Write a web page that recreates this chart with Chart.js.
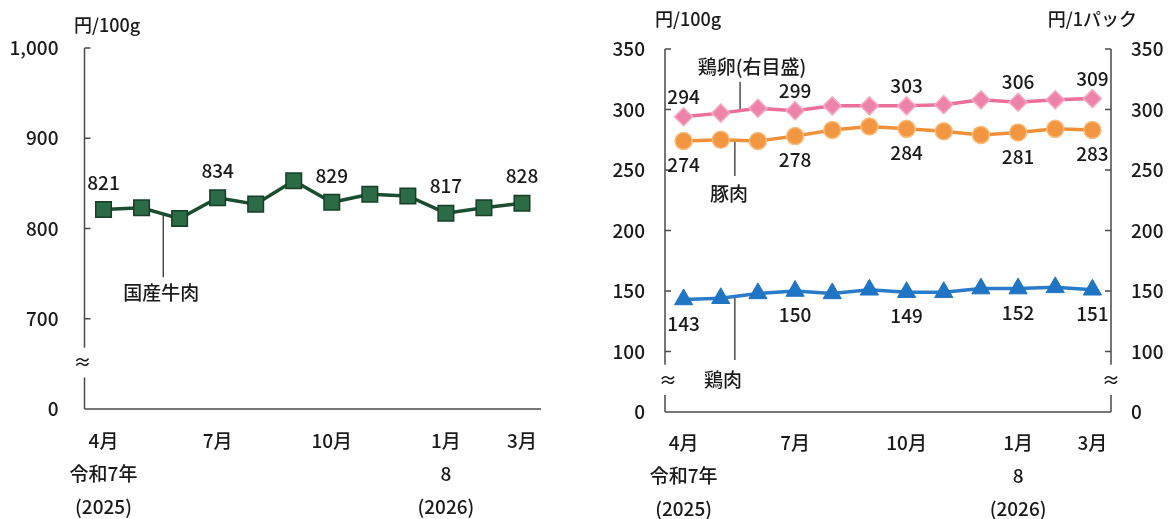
<!DOCTYPE html>
<html lang="ja">
<head>
<meta charset="utf-8">
<script src="https://cdn.jsdelivr.net/npm/chart.js@4/dist/chart.umd.min.js"></script>
<style>
  html, body { margin: 0; padding: 0; background: #fff; width: 1168px; height: 519px; overflow: hidden; }
  canvas { position: absolute; top: 0; }
  #beefChart { left: 0; }
  #meatChart { left: 560px; }
</style>
</head>
<body>
<canvas id="beefChart" width="560" height="519"></canvas>
<canvas id="meatChart" width="608" height="519"></canvas>
<script>
// ---- data -------------------------------------------------------------
const months = ['4月', '5月', '6月', '7月', '8月', '9月', '10月', '11月', '12月', '1月', '2月', '3月'];
const tickMonths = ['4月', '7月', '10月', '1月', '3月'];
const yearRows = { '4月': ['令和7年', '(2025)'], '1月': ['8', '(2026)'] };
const valueLabelMonths = ['4月', '7月', '10月', '1月', '3月'];

const beefPrices    = [821, 823, 811, 834, 827, 853, 829, 838, 836, 817, 823, 828];
const eggPrices     = [294, 297, 301, 299, 303, 303, 303, 304, 308, 306, 308, 309];
const porkPrices    = [274, 275, 274, 278, 283, 286, 284, 282, 279, 281, 284, 283];
const chickenPrices = [143, 144, 148, 150, 148, 151, 149, 149, 152, 152, 153, 151];

const beefTicks = [700, 800, 900, 1000];
const meatTicks = [100, 150, 200, 250, 300, 350];

// ---- styling ----------------------------------------------------------
const FONT = "'Noto Sans CJK JP', 'Noto Sans', sans-serif";
const WEIGHT = 500;
const TEXT = '#1a1a1a';
const AXIS = '#4a4a4a';

Chart.defaults.font.family = FONT;
Chart.defaults.font.weight = WEIGHT;
Chart.defaults.color = TEXT;
Chart.defaults.animation = false;

function monthTick(value, index) {
  const m = months[index];
  if (!tickMonths.includes(m)) return '';
  return yearRows[m] ? [m, ...yearRows[m]] : m;
}

function valueAxis(id, side, min, max, ticks, pad, width) {
  return {
    type: 'linear', position: side, min, max,
    grid: { display: false, drawTicks: false },
    border: { display: false },
    afterBuildTicks(scale) {
      scale.ticks = [min, ...ticks].map(v => ({ value: v }));
    },
    afterFit(scale) { scale.width = width; },
    ticks: {
      padding: pad,
      font: { size: 19, weight: WEIGHT },
      color: TEXT,
      callback: v => (v === min ? '0' : v.toLocaleString('en-US'))
    }
  };
}

function monthAxis(height, pad) {
  return {
    type: 'category', offset: true,
    grid: { display: false, drawTicks: false },
    border: { display: false },
    afterFit(scale) { scale.height = height; },
    ticks: {
      autoSkip: false, maxRotation: 0, padding: pad,
      font: { size: 19, weight: WEIGHT, lineHeight: 1.75 },
      color: TEXT,
      callback: monthTick
    }
  };
}

// axis frame with broken value axes, inward tick marks and the "≈" mark
const framePlugin = {
  id: 'frame',
  beforeDatasetsDraw(chart, args, o) {
    const ctx = chart.ctx, a = chart.chartArea;
    ctx.save();
    ctx.strokeStyle = AXIS;
    ctx.lineWidth = 1.5;
    ctx.beginPath();
    ctx.moveTo(a.left, a.bottom);
    ctx.lineTo(a.right, a.bottom);
    ctx.stroke();
    for (const ax of o.axes) {
      const s = chart.scales[ax.id];
      const px = ax.side === 'left' ? a.left : a.right;
      const dir = ax.side === 'left' ? 1 : -1;
      const gTop = s.getPixelForValue(o.breakHigh);
      const gBot = s.getPixelForValue(o.breakLow);
      ctx.beginPath();
      ctx.moveTo(px, a.top);
      ctx.lineTo(px, gTop);
      ctx.moveTo(px, gBot);
      ctx.lineTo(px, a.bottom);
      for (const v of o.ticks) {
        const py = s.getPixelForValue(v);
        ctx.moveTo(px, py);
        ctx.lineTo(px + dir * 6, py);
      }
      ctx.stroke();
      ctx.fillStyle = TEXT;
      ctx.font = `${WEIGHT} 18px ${FONT}`;
      ctx.textAlign = 'center';
      ctx.textBaseline = 'middle';
      ctx.fillText('≈', px + (ax.markDx || 0), (gTop + gBot) / 2);
    }
    // series names with leader lines
    for (const n of o.notes || []) {
      const s = chart.scales[n.axis];
      const x = chart.scales.x;
      const ds = chart.data.datasets[n.dataset].data;
      const i0 = Math.floor(n.at), f = n.at - i0;
      const lineVal = ds[i0] + (ds[i0 + 1] - ds[i0]) * f;
      const lx = x.getPixelForValue(n.at);
      ctx.strokeStyle = '#333';
      ctx.lineWidth = 1.3;
      ctx.beginPath();
      ctx.moveTo(lx, s.getPixelForValue(lineVal));
      ctx.lineTo(lx, s.getPixelForValue(n.leaderTo));
      ctx.stroke();
      ctx.fillStyle = TEXT;
      ctx.font = `${WEIGHT} 19px ${FONT}`;
      ctx.textAlign = 'center';
      ctx.textBaseline = 'middle';
      ctx.fillText(n.text, x.getPixelForValue(n.textAt), s.getPixelForValue(n.textVal));
    }
    ctx.restore();
  },
  afterDatasetsDraw(chart) {
    const ctx = chart.ctx;
    ctx.save();
    ctx.fillStyle = TEXT;
    ctx.font = `${WEIGHT} 19px ${FONT}`;
    ctx.textAlign = 'center';
    ctx.textBaseline = 'middle';
    chart.data.datasets.forEach((ds, i) => {
      if (!ds.valueLabel) return;
      chart.getDatasetMeta(i).data.forEach((pt, j) => {
        if (!valueLabelMonths.includes(chart.data.labels[j])) return;
        ctx.fillText(String(ds.data[j]), pt.x, pt.y + ds.valueLabel.dy);
      });
    });
    ctx.restore();
  }
};

// unit captions above the value axes
const unitPlugin = {
  id: 'units',
  afterDraw(chart, args, o) {
    const ctx = chart.ctx;
    ctx.save();
    ctx.fillStyle = TEXT;
    ctx.font = `${WEIGHT} 18px ${FONT}`;
    ctx.textBaseline = 'middle';
    for (const u of o.items) {
      ctx.textAlign = u.align;
      ctx.fillText(u.text, u.x, u.y);
    }
    ctx.restore();
  }
};

// ---- domestic beef ----------------------------------------------------
new Chart(document.getElementById('beefChart'), {
  type: 'line',
  data: {
    labels: months,
    datasets: [{
      label: '国産牛肉',
      data: beefPrices,
      borderColor: '#1c4d30',
      borderWidth: 3.5,
      pointStyle: 'rect',
      pointRadius: 11,
      pointBackgroundColor: '#2b6b45',
      pointBorderColor: '#173f27',
      pointBorderWidth: 1.5,
      tension: 0,
      valueLabel: { dy: -27 }
    }]
  },
  options: {
    responsive: false,
    layout: { padding: { top: 48, right: 19, left: 0, bottom: 0 } },
    plugins: {
      legend: { display: false },
      tooltip: { enabled: false },
      frame: {
        axes: [{ id: 'y', side: 'left', markDx: -2 }],
        breakHigh: 668, breakLow: 635,
        ticks: beefTicks,
        notes: [{ text: '国産牛肉', axis: 'y', dataset: 0, at: 1.57, leaderTo: 746, textAt: 1.52, textVal: 729 }]
      },
      units: { items: [{ text: '円/100g', x: 74, y: 25, align: 'left' }] }
    },
    scales: {
      x: monthAxis(110, 15),
      y: valueAxis('y', 'left', 600, 1000, beefTicks, 26, 84.5)
    }
  },
  plugins: [framePlugin, unitPlugin]
});

// ---- pork, chicken and eggs -------------------------------------------
new Chart(document.getElementById('meatChart'), {
  type: 'line',
  data: {
    labels: months,
    datasets: [{
      label: '鶏卵',
      data: eggPrices,
      yAxisID: 'y2',
      borderColor: '#eb6f9a',
      borderWidth: 3.5,
      pointStyle: 'rectRot',
      pointRadius: 9,
      pointBackgroundColor: '#ee83a9',
      pointBorderColor: '#f5a9c3',
      pointBorderWidth: 1.5,
      tension: 0,
      valueLabel: { dy: -20 }
    }, {
      label: '豚肉',
      data: porkPrices,
      yAxisID: 'y',
      borderColor: '#f0913a',
      borderWidth: 3.5,
      pointStyle: 'circle',
      pointRadius: 8.5,
      pointBackgroundColor: '#f29642',
      pointBorderColor: '#f8bd7c',
      pointBorderWidth: 1.5,
      tension: 0,
      valueLabel: { dy: 24 }
    }, {
      label: '鶏肉',
      data: chickenPrices,
      yAxisID: 'y',
      borderColor: '#2a7cc8',
      borderWidth: 3.5,
      pointStyle: 'triangle',
      pointRadius: 10.5,
      pointBackgroundColor: '#1f74c3',
      pointBorderColor: '#1f74c3',
      pointBorderWidth: 1,
      tension: 0,
      valueLabel: { dy: 24 }
    }]
  },
  options: {
    responsive: false,
    layout: { padding: { top: 49, right: 0, left: 0, bottom: 0 } },
    plugins: {
      legend: { display: false },
      tooltip: { enabled: false },
      frame: {
        axes: [{ id: 'y', side: 'left', markDx: 3 }, { id: 'y2', side: 'right', markDx: 0 }],
        breakHigh: 89, breakLow: 64,
        ticks: meatTicks,
        notes: [
          { text: '鶏卵(右目盛)', axis: 'y2', dataset: 0, at: 1.52, leaderTo: 323, textAt: 1.84, textVal: 335 },
          { text: '豚肉', axis: 'y', dataset: 1, at: 1.38, leaderTo: 245, textAt: 1.22, textVal: 230 },
          { text: '鶏肉', axis: 'y', dataset: 2, at: 1.38, leaderTo: 93, textAt: 1.06, textVal: 77 }
        ]
      },
      units: {
        items: [
          { text: '円/100g', x: 95, y: 19, align: 'left' },
          { text: '円/1パック', x: 577, y: 19, align: 'right' }
        ]
      }
    },
    scales: {
      x: monthAxis(107, 14),
      y: valueAxis('y', 'left', 50, 350, meatTicks, 20, 105),
      y2: valueAxis('y2', 'right', 50, 350, meatTicks, 20, 57)
    }
  },
  plugins: [framePlugin, unitPlugin]
});
</script>
</body>
</html>
